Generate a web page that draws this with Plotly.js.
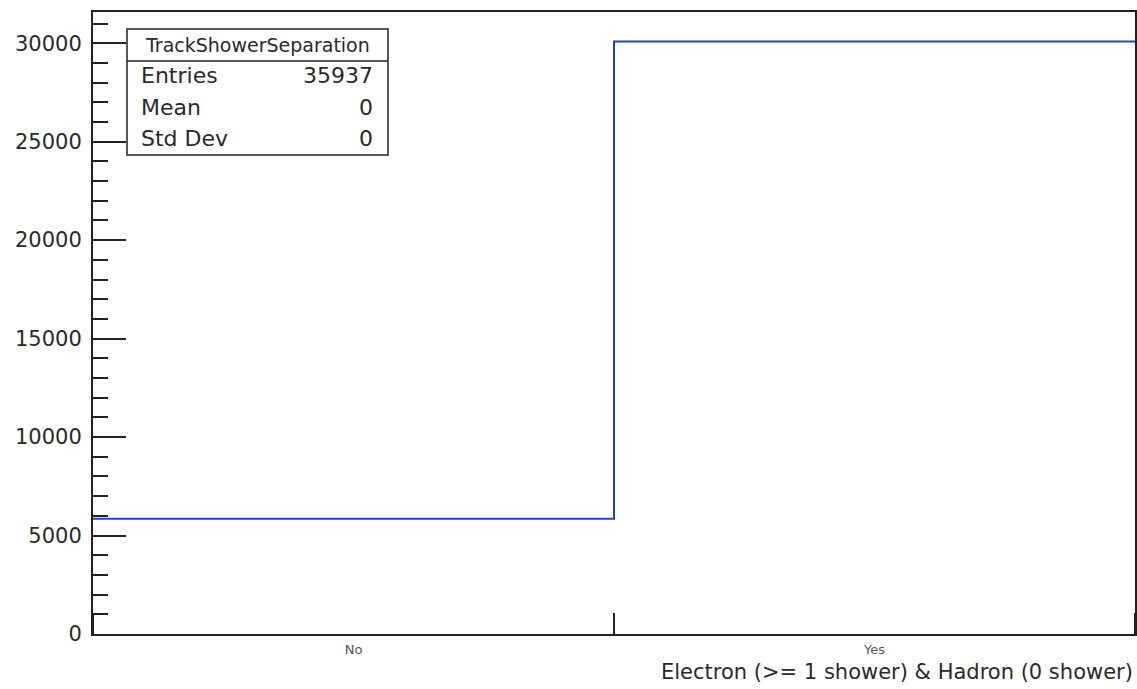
<!DOCTYPE html>
<html>
<head>
<meta charset="utf-8">
<script src="https://cdn.plot.ly/plotly-3.0.1.min.js"></script>
<style>
html,body{margin:0;padding:0;background:#fff;}
#chart{width:1137px;height:689px;}
</style>
</head>
<body>
<div id="chart"></div>
<script>
// ---- data ----
const categories = ["No", "Yes"];
const counts = [5857, 30080];
const histName = "TrackShowerSeparation";
const statsLabels = ["Entries", "Mean", "Std Dev"];
const statsValues = ["35937", "0", "0"];
const xTitle = "Electron (>= 1 shower) & Hadron (0 shower)";

// ---- layout constants ----
const W = 1137, H = 689;
const M = {l: 93, r: 2, t: 12, b: 55};
const PW = W - M.l - M.r, PH = H - M.t - M.b;
const px = x => (x - M.l) / PW;
const py = y => (H - M.b - y) / PH;
const FONT = "DejaVu Sans, Liberation Sans, Arial, sans-serif";
const AX = "#222";
const TXT = "#2a2a2a";

// step histogram built from bin edges
const edges = categories.map((_, i) => i).concat([categories.length]);
const stepY = counts.concat([counts[counts.length - 1]]);
const centers = categories.map((_, i) => i + 0.5);
const ymax = Math.max(...counts) * 1.05;

const trace = {
  x: edges, y: stepY, type: "scatter", mode: "lines",
  line: {shape: "hv", color: "#2343c4", width: 2},
  hoverinfo: "skip", showlegend: false
};

// stats box
const box = {x0: 127, x1: 388, y0: 29, y1: 155, div: 61};
const shapes = [
  {type: "rect", xref: "paper", yref: "paper",
   x0: px(box.x0), x1: px(box.x1), y0: py(box.y1), y1: py(box.y0),
   line: {color: AX, width: 1.5}, fillcolor: "#fff", layer: "above"},
  {type: "line", xref: "paper", yref: "paper",
   x0: px(box.x0), x1: px(box.x1), y0: py(box.div), y1: py(box.div),
   line: {color: AX, width: 1.5}, layer: "above"}
];
const annotations = [
  {xref: "paper", yref: "paper", x: px((box.x0 + box.x1) / 2), y: py(45),
   text: histName, showarrow: false, xanchor: "center", yanchor: "middle",
   font: {family: FONT, size: 19, color: TXT}}
];
const rowY = [76, 107, 139];
statsLabels.forEach((lab, i) => {
  annotations.push({xref: "paper", yref: "paper", x: px(139), y: py(rowY[i]),
    text: lab, showarrow: false, xanchor: "left", yanchor: "middle",
    font: {family: FONT, size: 22, color: TXT}});
  annotations.push({xref: "paper", yref: "paper", x: px(375), y: py(rowY[i]),
    text: statsValues[i], showarrow: false, xanchor: "right", yanchor: "middle",
    font: {family: FONT, size: 22, color: TXT}});
});
annotations.push({xref: "paper", yref: "paper", x: px(1135), y: py(672),
  text: xTitle, showarrow: false, xanchor: "right", yanchor: "middle",
  font: {family: FONT, size: 21, color: TXT}});

const layout = {
  width: W, height: H,
  margin: M,
  paper_bgcolor: "#fff", plot_bgcolor: "#fff",
  showlegend: false,
  xaxis: {
    range: [0, categories.length], showgrid: false, zeroline: false,
    tickmode: "array", tickvals: centers, ticktext: categories,
    ticks: "", tickfont: {family: FONT, size: 13, color: "#555"},
    ticklabelstandoff: 2,
    showline: true, mirror: true, linecolor: AX, linewidth: 2,
    minor: {tick0: 0, dtick: 1, ticks: "inside", ticklen: 21, tickwidth: 2, tickcolor: AX, showgrid: false},
    fixedrange: true
  },
  yaxis: {
    range: [0, ymax], showgrid: false, zeroline: false,
    tickmode: "linear", tick0: 0, dtick: 5000, tickformat: "d",
    ticks: "inside", ticklen: 33, tickwidth: 2, tickcolor: AX,
    tickfont: {family: FONT, size: 21, color: TXT},
    ticklabelstandoff: 5,
    showline: true, mirror: true, linecolor: AX, linewidth: 2,
    minor: {dtick: 1000, ticks: "inside", ticklen: 15, tickwidth: 2, tickcolor: AX, showgrid: false},
    fixedrange: true
  },
  shapes: shapes,
  annotations: annotations
};

Plotly.newPlot("chart", [trace], layout, {displayModeBar: false, staticPlot: true});
</script>
</body>
</html>
